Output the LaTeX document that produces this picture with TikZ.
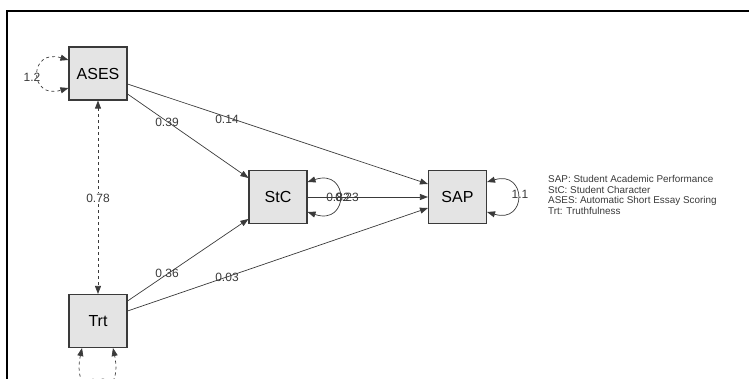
\documentclass[tikz,border=0pt]{standalone}
\usepackage{fontspec}
\setmainfont{Liberation Sans}
\usetikzlibrary{arrows.meta}
\definecolor{edgec}{HTML}{3A3A3A}
\definecolor{boxfill}{HTML}{E4E4E4}
\tikzset{
  var/.style={draw=edgec, line width=1.1pt, fill=boxfill, minimum width=58pt,
    minimum height=53pt, inner sep=0pt, font=\fontsize{16}{18}\selectfont},
  path/.style={draw=edgec, line width=0.7pt, -{Triangle[length=8pt,width=6pt]}},
  cov/.style={draw=edgec, line width=0.7pt, dashed,
    {Triangle[length=8pt,width=6pt]}-{Triangle[length=8pt,width=6pt]}},
  coef/.style={font=\fontsize{12}{14}\selectfont, text=edgec, inner sep=0.5pt},
}
\begin{document}
\begin{tikzpicture}[x=1pt,y=1pt]
\useasboundingbox (0,0) rectangle (749,378);
\clip (0,0) rectangle (749,378);
% frame
\draw[line width=1.8pt] (7,-5) -- (7,367) -- (760,367);

% variables
\node[var] (ASES) at (98,304.5) {ASES};
\node[var] (Trt)  at (98,57)    {Trt};
\node[var] (StC)  at (278,181)  {StC};
\node[var] (SAP)  at (457.5,181) {SAP};

% structural paths
\draw[path] ([yshift=-20.5pt]ASES.east) -- ([yshift=19pt]StC.west);
\draw[path] ([yshift=-10.5pt]ASES.east) -- ([yshift=13pt]SAP.west);
\draw[path] ([yshift=20pt]Trt.east) -- ([yshift=-22pt]StC.west);
\draw[path] ([yshift=10pt]Trt.east) -- ([yshift=-11pt]SAP.west);
\draw[path] (StC.east) -- (SAP.west);

% covariance
\draw[cov] (ASES.south) -- (Trt.north);

% variances
\draw[cov] ([yshift=13.5pt]ASES.west) .. controls +(-40,12) and +(-40,-12) .. ([yshift=-14.5pt]ASES.west);
\draw[cov] ([xshift=-16pt]Trt.south) .. controls +(-12,-56) and +(12,-56) .. ([xshift=15pt]Trt.south);
\draw[path, {Triangle[length=8pt,width=6pt]}-{Triangle[length=8pt,width=6pt]}]
  ([yshift=15pt]StC.east) .. controls +(42,14) and +(42,-14) .. ([yshift=-15pt]StC.east);
\draw[path, {Triangle[length=8pt,width=6pt]}-{Triangle[length=8pt,width=6pt]}]
  ([yshift=15pt]SAP.east) .. controls +(40,12) and +(40,-12) .. ([yshift=-15pt]SAP.east);

% coefficients
\node[coef] (c39) at (167,256) {0.39};
\node[coef] (c14) at (227,259) {0.14};
\node[coef] (c36) at (167,105) {0.36};
\node[coef] (c03) at (227,101) {0.03};
\node[coef, fill=white] (c78) at (98,180) {0.78};
\node[coef] (c82) at (338,181) {0.82};
\node[coef] (c23) at (347,181) {0.23};
\node[coef] (vA) at (32,301) {1.2};
\node[coef] (vT) at (98,-5) {1.2};
\node[coef] (vS) at (520,184) {1.1};

% legend
\node[anchor=north west, align=left, inner sep=0pt, text=edgec,
  font=\fontsize{9.9}{10.7}\selectfont] (legend) at (548,203)
  {SAP: Student Academic Performance\\
   StC: Student Character\\
   ASES: Automatic Short Essay Scoring\\
   Trt: Truthfulness};
\end{tikzpicture}
\end{document}
